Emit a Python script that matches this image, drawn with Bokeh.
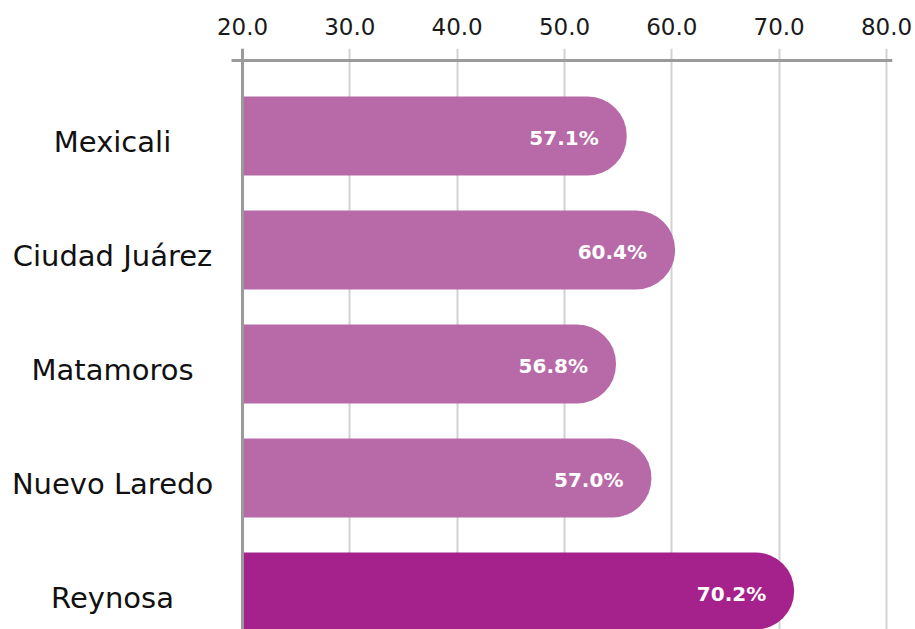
from bokeh.plotting import figure
from bokeh.models import ColumnDataSource, Range1d, FixedTicker, NumeralTickFormatter, Span
from bokeh.core.properties import value
from bokeh.embed import file_html
from bokeh.resources import INLINE

cities = ["Mexicali", "Ciudad Juárez", "Matamoros", "Nuevo Laredo", "Reynosa"]
bar_values = [55.8, 60.3, 54.8, 58.1, 71.4]
bar_labels = ["57.1%", "60.4%", "56.8%", "57.0%", "70.2%"]
bar_colors = ["#B86AA8", "#B86AA8", "#B86AA8", "#B86AA8", "#A5228D"]
x_ticks = [20, 30, 40, 50, 60, 70, 80]
base = 20

pos = list(range(len(cities)))

src = ColumnDataSource(dict(y=pos, v=bar_values, lab=bar_labels, col=bar_colors,
                            city=cities, lx=[7.89] * len(cities)))

p = figure(width=913, height=629, output_backend="svg", toolbar_location=None,
           x_range=Range1d(-2.545, 80.56), y_range=Range1d(4.329, -0.7675),
           x_axis_location="above", y_axis_location=None,
           min_border_left=0, min_border_right=21, min_border_top=48, min_border_bottom=0)
p.outline_line_color = None
p.background_fill_color = "white"
p.border_fill_color = "white"

ax = p.xaxis[0]
ax.ticker = FixedTicker(ticks=x_ticks)
ax.formatter = NumeralTickFormatter(format="0.0")
ax.axis_line_color = None
ax.major_tick_line_color = None
ax.minor_tick_line_color = None
ax.major_tick_in = 0
ax.major_tick_out = 0
ax.major_label_standoff = 14
ax.major_label_text_font = "DejaVu Sans"
ax.major_label_text_font_size = "23px"
ax.major_label_text_color = "#1a1a1a"

p.xgrid.ticker = FixedTicker(ticks=x_ticks)
p.xgrid.grid_line_color = "#d2d2d2"
p.xgrid.grid_line_width = 2
p.ygrid.grid_line_color = None

p.hbar(y="y", left=base, right="v", height=0.693, fill_color="col", line_color=None,
       border_radius=(0, 39, 39, 0), source=src)

# top axis line
p.segment(x0=[18.98], y0=[-0.662], x1=[80.56], y1=[-0.662], line_color="#9a9a9a", line_width=3)
p.add_layout(Span(location=base, dimension="height", line_color="#9a9a9a", line_width=3))

p.text(x="v", y="y", text="lab", source=src, text_align="right", text_baseline="middle",
       x_offset=-28, y_offset=2, text_color="white", text_font=value("DejaVu Sans"),
       text_font_style="bold", text_font_size="20px")

p.text(x="lx", y="y", text="city", source=src, text_align="center", text_baseline="middle",
       y_offset=6, text_color="#111111", text_font=value("DejaVu Sans"), text_font_size="29px")

open("out.html", "w").write(file_html(p, INLINE))
